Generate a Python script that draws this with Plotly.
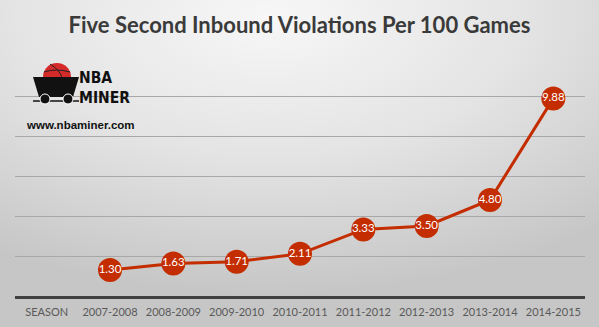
import base64
import plotly.graph_objects as go

# ---- data ----
seasons = ["SEASON", "2007-2008", "2008-2009", "2009-2010", "2010-2011",
           "2011-2012", "2012-2013", "2013-2014", "2014-2015"]
violations = [None, 1.30, 1.63, 1.71, 2.11, 3.33, 3.50, 4.80, 9.88]
labels = ["" if v is None else f"{v:.2f}" for v in violations]
title_text = "Five Second Inbound Violations Per 100 Games"

W, H = 599, 327
L, R, T, B = 15, 14, 56, 31
PW, PH = W - L - R, H - T - B

def px(x):
    return (x - L) / PW

def py(y):
    return (H - B - y) / PH

RED = "#C42D00"

fig = go.Figure()
fig.add_trace(go.Scatter(
    x=seasons, y=violations, mode="lines+markers+text",
    line=dict(color=RED, width=3),
    marker=dict(color=RED, size=24),
    text=labels, textposition="middle center",
    textfont=dict(color="white", size=11.5, family="Lato"),
    cliponaxis=False, hoverinfo="skip", connectgaps=False,
))

# background gradient
svg = f'''<svg xmlns="http://www.w3.org/2000/svg" width="{W}" height="{H}">
<defs><radialGradient id="g" cx="0.45" cy="0.05" r="0.85" gradientUnits="objectBoundingBox">
<stop offset="0" stop-color="#F7F7F7"/><stop offset="0.5" stop-color="#E4E4E4"/>
<stop offset="1" stop-color="#C6C6C6"/></radialGradient></defs>
<rect width="{W}" height="{H}" fill="url(#g)"/></svg>'''
src = "data:image/svg+xml;base64," + base64.b64encode(svg.encode()).decode()

shapes = []
# basketball
bx, by, br = 57, 77, 14
shapes.append(dict(type="circle", xref="paper", yref="paper",
                   x0=px(bx - br), x1=px(bx + br), y0=py(by + br), y1=py(by - br),
                   fillcolor="#D42A2A", line=dict(width=0)))
shapes.append(dict(type="path", xref="paper", yref="paper",
                   path=f"M {px(50)},{py(64)} Q {px(60)},{py(70)} {px(62)},{py(78)}",
                   line=dict(color="#222", width=1)))
shapes.append(dict(type="path", xref="paper", yref="paper",
                   path=f"M {px(44)},{py(72)} Q {px(56)},{py(68)} {px(70)},{py(72)}",
                   line=dict(color="#222", width=1)))
# cart
shapes.append(dict(type="path", xref="paper", yref="paper",
                   path=(f"M {px(33)},{py(77)} L {px(79)},{py(77)} L {px(73)},{py(97)} "
                         f"L {px(39)},{py(97)} Z"),
                   fillcolor="#111111", line=dict(width=0)))
shapes.append(dict(type="line", xref="paper", yref="paper",
                   x0=px(33), x1=px(79), y0=py(101), y1=py(101),
                   line=dict(color="#111", width=1.5)))
for wx in (45, 68):
    shapes.append(dict(type="circle", xref="paper", yref="paper",
                       x0=px(wx - 5), x1=px(wx + 5), y0=py(104), y1=py(94),
                       fillcolor="#111111", line=dict(color="white", width=1)))

logo_font = "Liberation Sans Narrow, DejaVu Sans Condensed, Liberation Sans"
annotations = [
    dict(text="<b>NBA</b><br><b>MINER</b>", x=px(78), y=py(88), xref="paper", yref="paper",
         xanchor="left", yanchor="middle", align="left", showarrow=False, borderpad=0,
         font=dict(family=logo_font, size=15.5, color="#111")),
    dict(text="<b>www.nbaminer.com</b>", x=px(24), y=py(125), xref="paper", yref="paper",
         xanchor="left", yanchor="middle", showarrow=False,
         font=dict(family="Liberation Sans", size=11.5, color="#111")),
]

fig.update_layout(
    width=W, height=H,
    margin=dict(l=L, r=R, t=T, b=B),
    paper_bgcolor="#E0E0E0",
    plot_bgcolor="rgba(0,0,0,0)",
    showlegend=False,
    title=dict(text=f"<b>{title_text}</b>", x=0.5, xanchor="center",
               y=1 - 25 / H, yanchor="middle",
               font=dict(family="Lato", size=22, color="#3A3A3A")),
    images=[dict(source=src, xref="paper", yref="paper",
                 x=-L / PW, y=1 + T / PH, sizex=W / PW, sizey=H / PH,
                 xanchor="left", yanchor="top", sizing="stretch", layer="below")],
    shapes=shapes,
    annotations=annotations,
    xaxis=dict(type="category", categoryorder="array", categoryarray=seasons,
               range=[-0.5, len(seasons) - 0.5],
               showgrid=False, showline=True, linecolor="#404040", linewidth=2.5,
               ticks="", tickangle=0, automargin=False, ticklabelstandoff=4,
               tickfont=dict(family="Lato", size=11, color="#595959"),
               fixedrange=True),
    yaxis=dict(range=[0, 12], dtick=2, showticklabels=False, zeroline=False,
               showgrid=True, gridcolor="#A8A8A8", gridwidth=1, fixedrange=True,
               automargin=False),
)

fig.write_html("out.html")
